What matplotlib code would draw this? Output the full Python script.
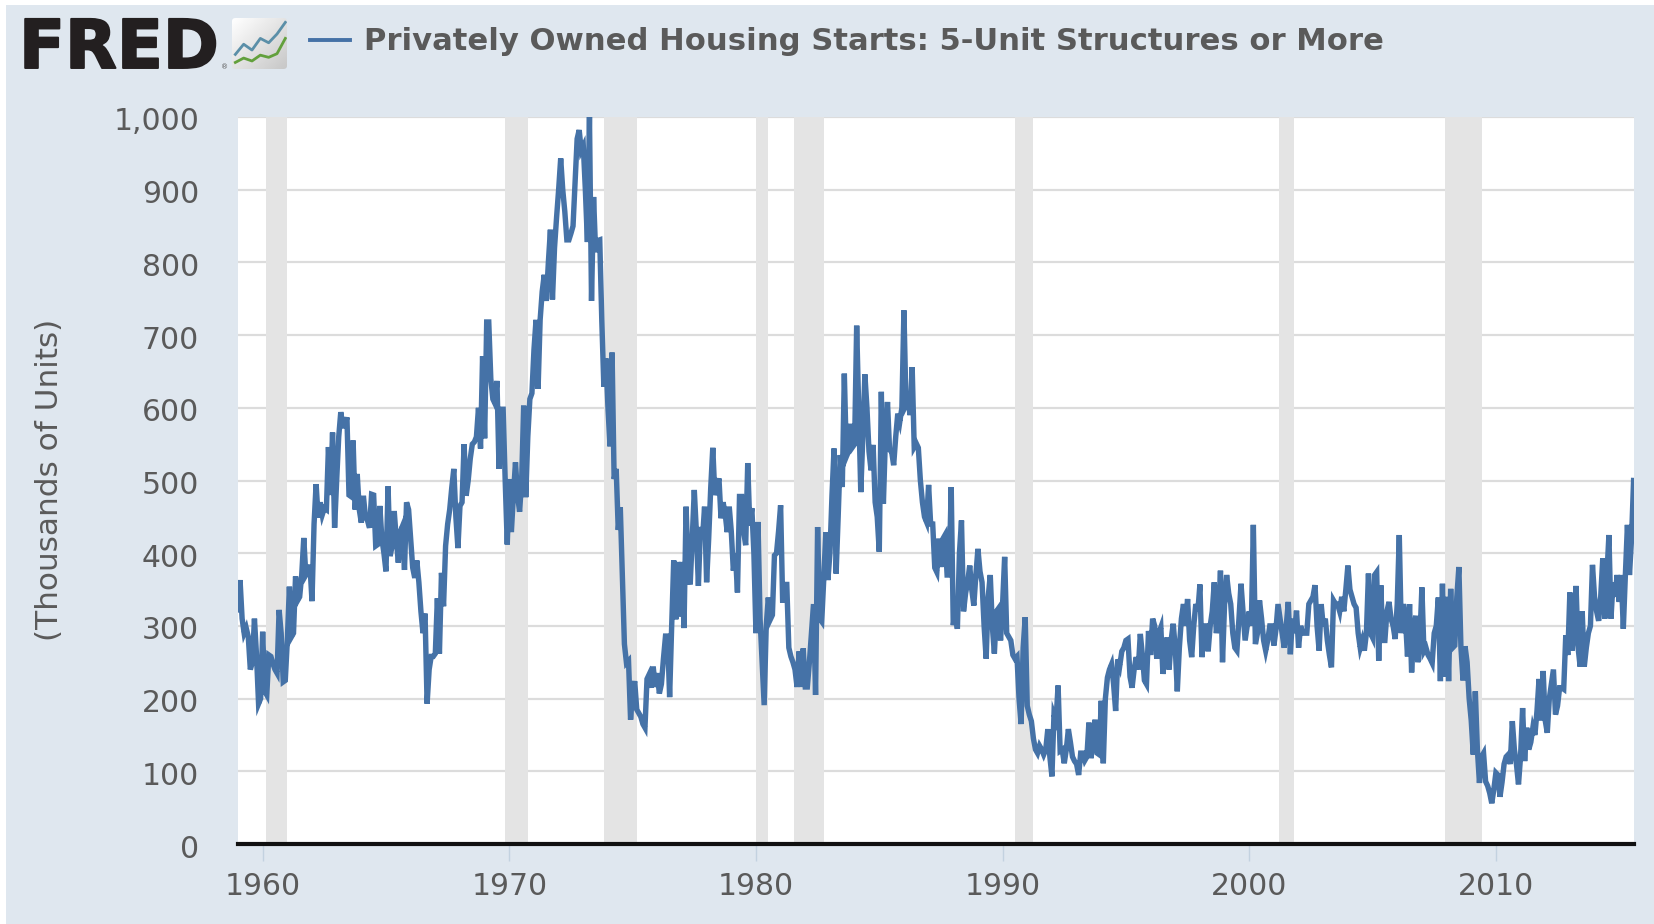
import numpy as np
import matplotlib
matplotlib.use('Agg')
import matplotlib.pyplot as plt
import matplotlib.patheffects as pe
from matplotlib.lines import Line2D
from matplotlib.patches import FancyBboxPatch, Rectangle
from matplotlib.transforms import ScaledTranslation

W, H = 1654, 924

# monthly starts, thousands of units, one row per year
starts_1959_1968 = [
    322, 363, 310, 290, 297, 285, 240, 250, 310, 260, 193, 200,
    292, 210, 205, 260, 258, 248, 240, 235, 322, 290, 223, 225,
    280, 354, 285, 290, 368, 335, 340, 370, 421, 370, 375, 384,
    334, 440, 495, 449, 470, 453, 462, 460, 546, 480, 566, 435,
    500, 560, 594, 575, 575, 587, 480, 478, 555, 460, 509, 460,
    442, 479, 450, 445, 435, 481, 480, 410, 412, 465, 420, 400,
    375, 492, 396, 410, 458, 420, 387, 430, 437, 377, 470, 460,
    420, 380, 366, 390, 360, 320, 290, 317, 193, 240, 258, 258,
    262, 338, 262, 373, 327, 410, 440, 460, 490, 516, 450, 407,
    465, 470, 550, 479, 500, 530, 550, 553, 560, 600, 544, 671,
]
starts_1969_1978 = [
    558, 718, 718, 640, 612, 606, 637, 516, 598, 598, 500, 412,
    502, 429, 480, 525, 480, 457, 500, 603, 477, 560, 612, 620,
    680, 721, 626, 721, 760, 783, 747, 800, 845, 749, 820, 862,
    900, 943, 900, 870, 831, 831, 840, 850, 910, 970, 982, 954,
    960, 900, 828, 1000, 747, 890, 814, 830, 831, 720, 629, 668,
    600, 547, 676, 502, 516, 432, 463, 370, 275, 249, 252, 171,
    210, 224, 185, 180, 175, 165, 160, 227, 233, 215, 244, 216,
    235, 207, 220, 255, 286, 286, 202, 300, 390, 309, 388, 313,
    388, 297, 464, 380, 357, 420, 487, 430, 355, 436, 420, 464,
    360, 420, 490, 545, 480, 490, 503, 448, 470, 455, 429, 464,
]
starts_1979_1988 = [
    430, 376, 400, 346, 478, 478, 430, 411, 524, 438, 462, 400,
    290, 443, 310, 250, 191, 300, 339, 309, 315, 397, 400, 430,
    466, 332, 357, 357, 270, 258, 250, 240, 216, 265, 216, 269,
    216, 216, 250, 290, 330, 205, 436, 310, 306, 365, 429, 363,
    400, 480, 544, 372, 450, 535, 491, 647, 533, 540, 578, 546,
    550, 713, 600, 484, 560, 646, 600, 540, 514, 549, 470, 450,
    402, 622, 468, 560, 608, 542, 540, 521, 560, 592, 581, 600,
    734, 604, 610, 590, 656, 546, 551, 545, 500, 470, 450, 443,
    494, 440, 440, 380, 374, 420, 381, 420, 425, 370, 370, 491,
    301, 320, 296, 400, 445, 320, 345, 360, 383, 350, 328, 370,
]
starts_1989_1998 = [
    406, 375, 360, 300, 255, 340, 370, 300, 262, 320, 324, 280,
    330, 395, 290, 285, 280, 260, 255, 258, 200, 165, 270, 312,
    190, 178, 169, 145, 130, 125, 135, 130, 123, 130, 158, 120,
    93, 178, 170, 218, 128, 130, 111, 130, 158, 140, 120, 114,
    110, 95, 125, 125, 115, 120, 167, 118, 140, 171, 125, 123,
    197, 111, 200, 229, 240, 247, 220, 183, 254, 245, 265, 270,
    280, 282, 230, 215, 240, 257, 240, 289, 260, 225, 220, 293,
    260, 310, 300, 255, 290, 298, 234, 260, 284, 240, 280, 303,
    270, 210, 270, 310, 330, 300, 337, 280, 257, 300, 330, 320,
    357, 257, 300, 300, 265, 300, 320, 360, 290, 310, 376, 250,
]
starts_1999_2008 = [
    330, 370, 345, 330, 290, 270, 266, 310, 358, 320, 280, 300,
    320, 300, 439, 275, 290, 335, 310, 280, 266, 280, 300, 300,
    273, 295, 330, 310, 290, 270, 300, 333, 261, 310, 290, 321,
    270, 300, 290, 290, 290, 330, 335, 340, 356, 300, 266, 330,
    300, 310, 280, 260, 243, 335, 330, 330, 320, 340, 320, 350,
    383, 350, 340, 330, 325, 290, 270, 280, 266, 290, 372, 290,
    284, 370, 374, 252, 356, 280, 280, 320, 333, 310, 300, 282,
    330, 425, 290, 330, 310, 258, 330, 236, 290, 314, 250, 280,
    353, 265, 270, 260, 255, 249, 290, 300, 339, 224, 358, 230,
    340, 224, 351, 270, 273, 340, 381, 270, 225, 272, 250, 200,
]
starts_2009_2015 = [
    170, 123, 210, 130, 84, 120, 125, 86, 80, 70, 56, 75,
    98, 95, 65, 85, 110, 120, 123, 110, 169, 130, 110, 82,
    120, 187, 114, 160, 130, 140, 160, 150, 183, 227, 170, 238,
    170, 153, 200, 220, 240, 178, 190, 215, 215, 213, 287, 260,
    346, 266, 290, 355, 270, 244, 320, 244, 270, 290, 300, 384,
    340, 320, 307, 340, 393, 310, 370, 425, 310, 360, 340, 370,
    333, 370, 296, 370, 439, 370, 420, 500,
]
first_year = 1959

rec_starts = [1960.15, 1969.83, 1973.83, 1980.0, 1981.55, 1990.5, 2001.2, 2007.92]
rec_ends = [1960.97, 1970.75, 1975.17, 1980.5, 1982.75, 1991.25, 2001.83, 2009.42]

y_ticks = [0, 100, 200, 300, 400, 500, 600, 700, 800, 900, 1000]
y_labels = ['0', '100', '200', '300', '400', '500', '600', '700', '800', '900', '1,000']
x_ticks = [1960, 1970, 1980, 1990, 2000, 2010]

title = 'Privately Owned Housing Starts: 5-Unit Structures or More'
y_title = '(Thousands of Units)'

icon_x = [0, 1, 2, 3, 4, 5, 6]
icon_blue = [2.0, 3.4, 2.6, 4.2, 3.6, 4.8, 6.4]
icon_green = [0.9, 1.5, 1.1, 1.9, 1.6, 2.1, 4.2]

bg = '#dfe7ef'
line_col = '#4572a7'
text_col = '#5a5a5a'


def fx(px):
    return px / W


def fy(px):
    return 1 - px / H


def draw_logo(fig):
    t = fig.text(fx(19), fy(68), 'FRED', fontsize=48.5, fontweight='bold', color='#231f20',
                 ha='left', va='baseline')
    t.set_path_effects([pe.withStroke(linewidth=1.4, foreground='#231f20')])
    fig.text(fx(221), fy(69), '\u00ae', fontsize=5, color='#555555', ha='left', va='baseline')
    ax = fig.add_axes([fx(232), fy(69), fx(55), 51 / H])
    ax.set_xlim(-0.4, 6.2)
    ax.set_ylim(0, 7)
    ax.axis('off')
    grad = np.linspace(0, 1, 60)
    img = 1 - 0.22 * np.add.outer(grad, grad) / 2
    im = ax.imshow(img, extent=[-0.4, 6.2, 0, 7], cmap='gray', vmin=0, vmax=1,
                   aspect='auto', origin='upper', zorder=1)
    box = FancyBboxPatch((-0.4, 0), 6.6, 7, boxstyle='round,pad=0,rounding_size=0.45',
                         transform=ax.transData, facecolor='none', edgecolor='none')
    ax.add_patch(box)
    im.set_clip_path(box)
    ax.plot(icon_x, icon_blue, color='#5b8fa8', lw=2, zorder=2)
    ax.plot(icon_x, icon_green, color='#62a03c', lw=2, zorder=2)


def main():
    fig = plt.figure(figsize=(W / 100, H / 100), dpi=100, facecolor='white')
    fig.patches.append(Rectangle((fx(6), 0), 1 - fx(6), fy(5), transform=fig.transFigure,
                                 facecolor=bg, edgecolor='none', zorder=-5))

    ax = fig.add_axes([fx(238), fy(844), fx(1634 - 238), (844 - 117) / H])
    ax.set_facecolor('white')

    # one run of months per block, each block knows where it starts
    blocks = [starts_1959_1968, starts_1969_1978, starts_1979_1988,
              starts_1989_1998, starts_1999_2008, starts_2009_2015]
    values = np.concatenate(blocks)
    dates = first_year + np.arange(len(values)) / 12

    for a, b in zip(rec_starts, rec_ends):
        ax.axvspan(a, b, color='#e4e4e4', lw=0, zorder=1)
    ax.set_yticks(y_ticks)
    ax.set_yticklabels(y_labels)
    ax.set_xticks(x_ticks)
    ax.grid(axis='y', color='#dcdcdc', lw=1.6, zorder=2)
    ax.set_axisbelow(True)
    ax.plot(dates, values, color=line_col, lw=3.9, solid_joinstyle='miter', zorder=3)

    ax.set_xlim(first_year, 2015.6)
    ax.set_ylim(0, 1000)
    for s in ['top', 'right', 'left']:
        ax.spines[s].set_visible(False)
    ax.spines['bottom'].set_color('#111111')
    ax.spines['bottom'].set_linewidth(3)
    ax.spines['bottom'].set_zorder(5)

    ax.tick_params(axis='y', length=0, pad=28, labelsize=21.5, labelcolor=text_col)
    ax.tick_params(axis='x', length=12, width=1, color='#c3d2e0', pad=8, labelsize=21.5,
                   labelcolor=text_col)
    # y labels sit a touch under their grid lines
    shift = ScaledTranslation(0, -2 / 100, fig.dpi_scale_trans)
    for lab in ax.get_yticklabels():
        lab.set_transform(lab.get_transform() + shift)

    fig.text(fx(50), fy(480), y_title, rotation=90, fontsize=22.4, color=text_col,
             ha='center', va='center')

    draw_logo(fig)
    fig.add_artist(Line2D([fx(310), fx(350)], [fy(40), fy(40)], color=line_col, lw=2.8,
                          transform=fig.transFigure))
    fig.text(fx(364), fy(41), title, fontsize=22.1, fontweight='bold', color=text_col,
             ha='left', va='center')

    fig.savefig('out.png', dpi=100, facecolor='white')


if __name__ == '__main__':
    main()
